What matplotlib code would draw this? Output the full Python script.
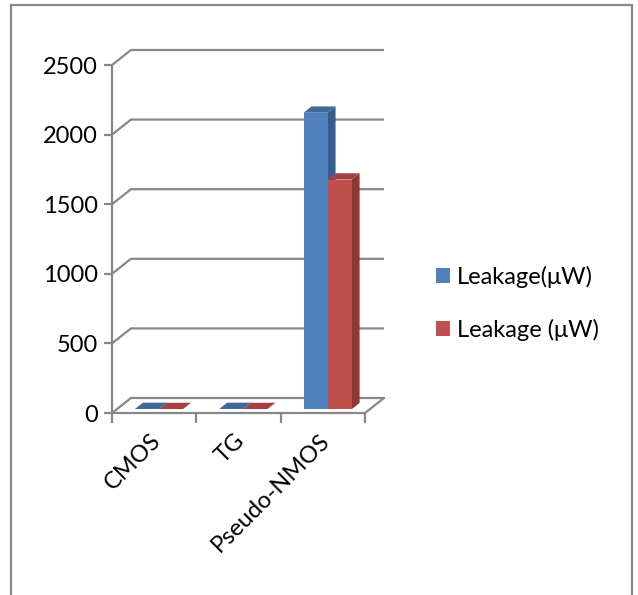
import matplotlib
matplotlib.use("Agg")
import matplotlib.pyplot as plt
from matplotlib.patches import Polygon, Rectangle
import numpy as np

# ---- data ----
categories = ["CMOS", "TG", "Pseudo-NMOS"]
series_names = ["Leakage(\u03bcW)", "Leakage (\u03bcW)"]
leakage_1 = [2.0, 2.0, 2130]
leakage_2 = [1.5, 1.5, 1650]
y_ticks = [0, 500, 1000, 1500, 2000, 2500]

front_colors = ["#4F81BD", "#C0504D"]
side_colors = ["#385D8A", "#8C3836"]
top_colors = ["#40689A", "#A5423F"]
grid_color = "#878787"

plt.rcParams['font.family'] = ['Lato', 'DejaVu Sans']
FS = 17

W, H = 638, 595
fig = plt.figure(figsize=(W / 100, H / 100), dpi=100)

# axes placement in pixels
x0_px, xr_px = 112, 400
yb_px, yt_px = 413, 40
px_per_cat = 84.33
px_per_val = 0.1392
ax = fig.add_axes([x0_px / W, 1 - yb_px / H, (xr_px - x0_px) / W, (yb_px - yt_px) / H])
ax.set_xlim(0, (xr_px - x0_px) / px_per_cat)
ax.set_ylim(0, (yb_px - yt_px) / px_per_val)
ax.patch.set_alpha(0)

# depth vector of the 3D box (in data units)
DX = 19 / px_per_cat
DY = 15 / px_per_val
ncat = len(categories)

# back wall gridlines + floor
for v in y_ticks:
    ax.plot([0, DX, ncat + DX], [v, v + DY, v + DY], color=grid_color, lw=1.6,
            solid_capstyle='butt', zorder=1)
ax.plot([ncat, ncat + DX], [0, DY], color=grid_color, lw=1.6, zorder=1)

# bars
f = 0.25          # front face depth fraction
bd = 0.42         # bar depth fraction
bw = 0.285        # bar width in category units
group_off = 0.5 - bw  # left offset of group inside category
series = [leakage_1, leakage_2]
for i in range(ncat):
    for s, vals in enumerate(series):
        v = vals[i]
        xl = i + group_off + s * bw + f * DX
        yb = f * DY
        ddx, ddy = bd * DX, bd * DY
        ax.bar(xl, v, width=bw, bottom=yb, align='edge', color=front_colors[s],
               edgecolor='none', zorder=3 + s * 3 + i)
        top = Polygon([[xl, yb + v], [xl + bw, yb + v], [xl + bw + ddx, yb + v + ddy],
                       [xl + ddx, yb + v + ddy]], closed=True, facecolor=top_colors[s],
                      edgecolor='none', zorder=2 + s * 3 + i)
        side = Polygon([[xl + bw, yb], [xl + bw + ddx, yb + ddy], [xl + bw + ddx, yb + v + ddy],
                        [xl + bw, yb + v]], closed=True, facecolor=side_colors[s],
                       edgecolor='none', zorder=2 + s * 3 + i)
        ax.add_patch(side)
        ax.add_patch(top)

# spines
for sp in ['top', 'right']:
    ax.spines[sp].set_visible(False)
ax.spines['left'].set_bounds(0, y_ticks[-1])
ax.spines['bottom'].set_bounds(0, ncat)
for sp in ['left', 'bottom']:
    ax.spines[sp].set_color(grid_color)
    ax.spines[sp].set_linewidth(1.6)
    ax.spines[sp].set_zorder(1)

ax.set_yticks(y_ticks)
ax.set_yticklabels([str(t) for t in y_ticks], fontsize=FS)
ax.tick_params(axis='y', direction='out', length=6, width=1.6, color=grid_color, pad=4)

ax.set_xticks(np.arange(ncat + 1))
ax.set_xticklabels([])
ax.tick_params(axis='x', which='major', direction='out', length=7, width=1.6, color=grid_color)
ax.set_xticks(np.arange(ncat) + 0.45, minor=True)
ax.set_xticklabels(categories, minor=True, rotation=45, ha='right', va='top',
                   rotation_mode='anchor', fontsize=FS)
ax.tick_params(axis='x', which='minor', length=0, pad=12)

# legend
handles = [Rectangle((0, 0), 1, 1, facecolor=c, edgecolor='none') for c in front_colors]
fig.legend(handles, series_names, loc='upper left', bbox_to_anchor=(424 / W, 1 - 254 / H),
           frameon=False, fontsize=FS, handlelength=0.6, handleheight=0.6,
           handletextpad=0.3, labelspacing=1.3, borderpad=0)

# outer chart border
fig.add_artist(Rectangle((11 / W, -0.05), (632 - 11) / W, 1 - 5 / H + 0.05,
                         transform=fig.transFigure, fill=False, edgecolor=grid_color, lw=1.6))

fig.savefig("out.png", dpi=100)
